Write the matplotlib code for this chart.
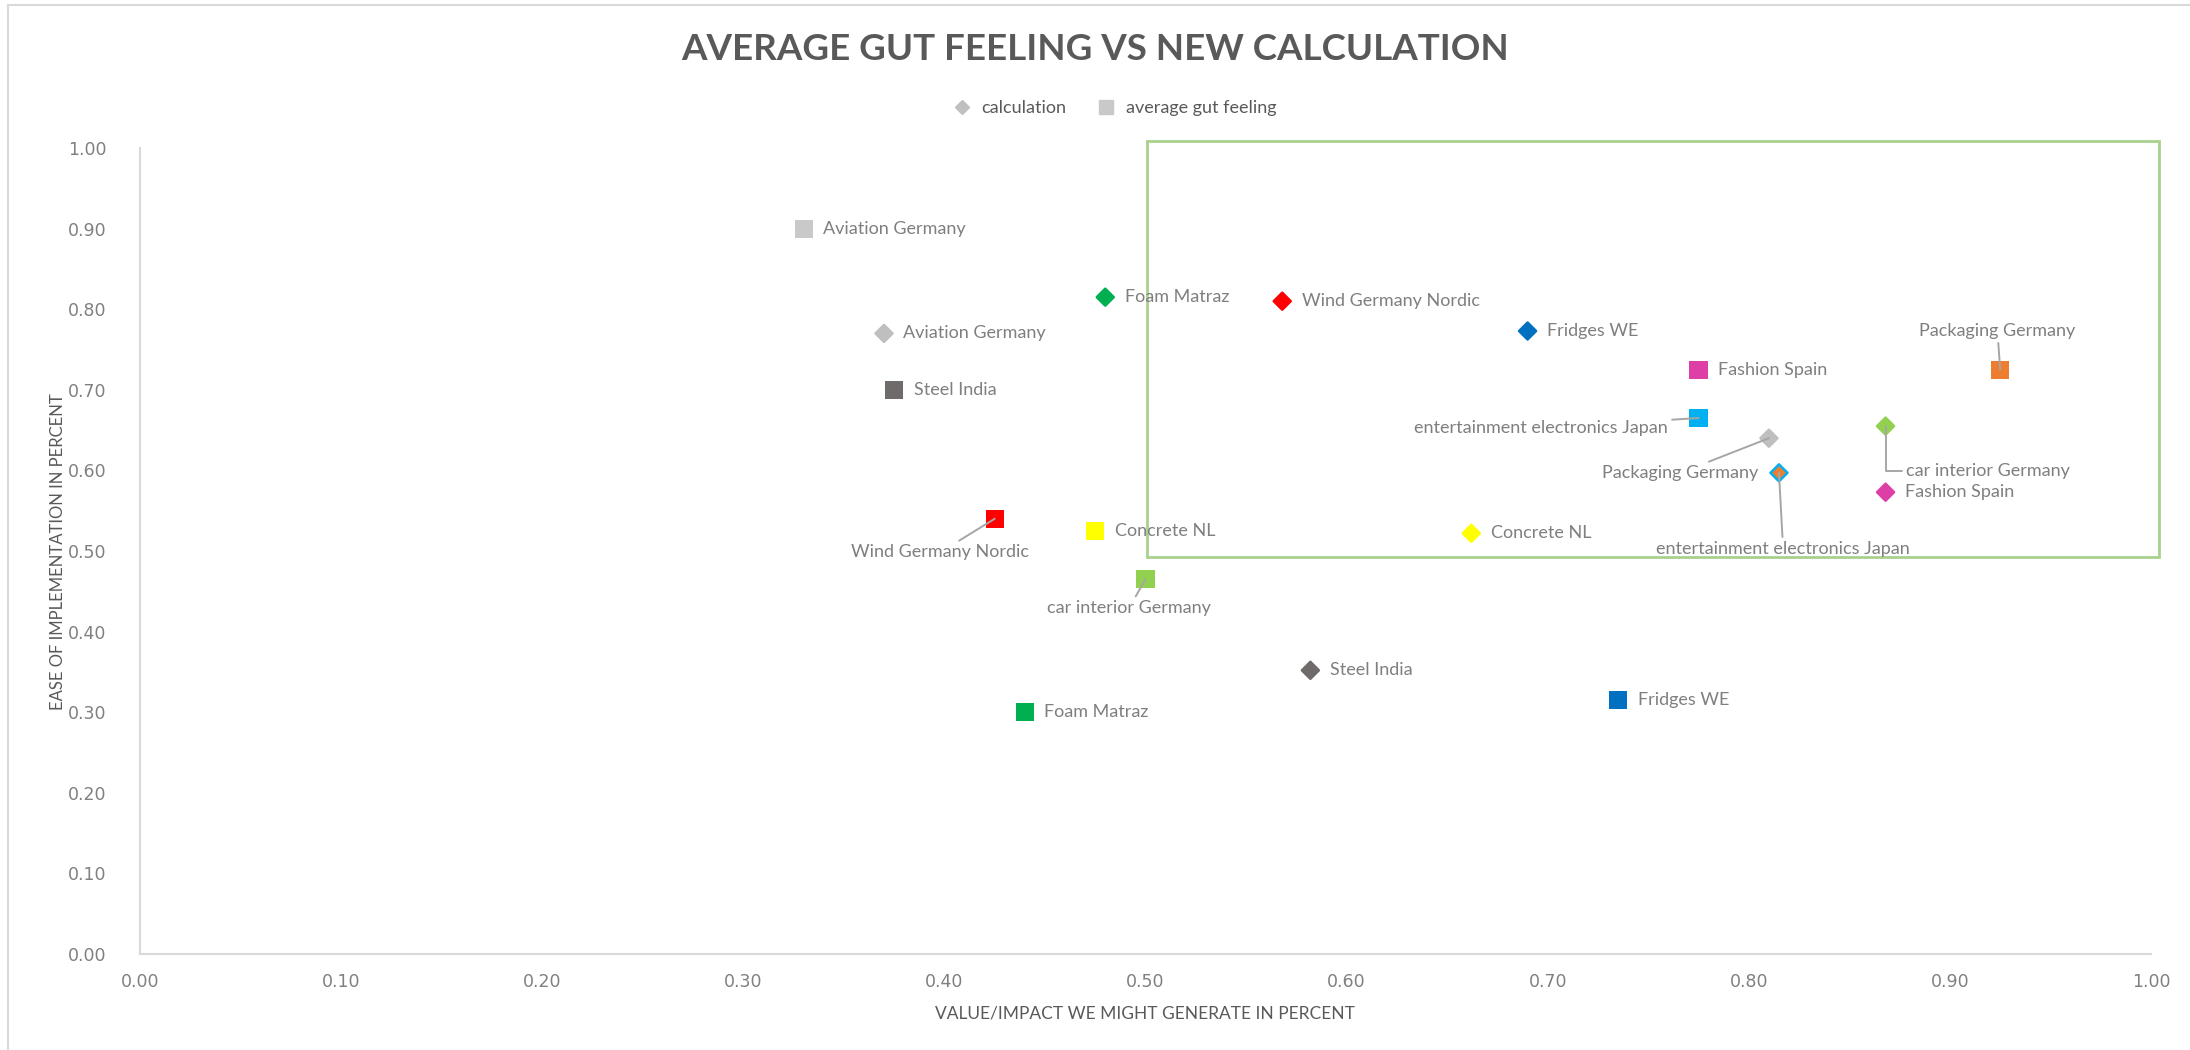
"""Scatter: average gut feeling vs new calculation per project."""
import matplotlib
matplotlib.use("Agg")
import matplotlib.pyplot as plt
from matplotlib.lines import Line2D
from matplotlib.patches import Rectangle

projects = ["Aviation Germany", "Steel India", "Wind Germany Nordic", "Concrete NL",
            "car interior Germany", "Foam Matraz", "Fridges WE", "Fashion Spain",
            "entertainment electronics Japan", "Packaging Germany"]

# average gut feeling (squares)
gut_x = [0.33, 0.375, 0.425, 0.475, 0.50, 0.44, 0.735, 0.775, 0.775, 0.925]
gut_y = [0.90, 0.70, 0.54, 0.525, 0.465, 0.30, 0.315, 0.725, 0.665, 0.725]
# calculation (diamonds)
calc_x = [0.37, 0.582, 0.568, 0.662, 0.868, 0.48, 0.69, 0.868, 0.815, 0.81]
calc_y = [0.77, 0.352, 0.81, 0.522, 0.655, 0.815, 0.773, 0.573, 0.597, 0.64]

gut_colors = ["#C9C9C9", "#6F6B6B", "#FF0000", "#FFFF00", "#92D050", "#00B050",
              "#0070C0", "#DE3FA6", "#00B0F0", "#ED7D31"]
calc_colors = ["#BFBFBF", "#6F6B6B", "#FF0000", "#FFFF00", "#92D050", "#00B050",
               "#0070C0", "#DE3FA6", "#ED7D31", "#BFBFBF"]
calc_edges = ["#BFBFBF", "#6F6B6B", "#FF0000", "#FFFF00", "#92D050", "#00B050",
              "#0070C0", "#DE3FA6", "#00B0F0", "#BFBFBF"]

ticks = [0.0, 0.1, 0.2, 0.3, 0.4, 0.5, 0.6, 0.7, 0.8, 0.9, 1.0]

# label placement (offset in points, alignment); default is right of the marker
gut_offsets = {"Wind Germany Nordic": (-39, -24, "center"),
               "car interior Germany": (-12, -21, "center"),
               "entertainment electronics Japan": (-22, -7, "right"),
               "Packaging Germany": (-2, 28, "center")}
calc_offsets = {"Packaging Germany": (-64, -25, "center"),
                "entertainment electronics Japan": (3, -55, "center"),
                "car interior Germany": (15, -32, "left")}

LABEL = "#7F7F7F"
LEADER = "#A6A6A6"

fig = plt.figure(figsize=(21.9, 10.5), dpi=100)
ax = fig.add_axes([0.0639, 0.0914, 0.9183, 0.7676])

ax.scatter(gut_x, gut_y, marker="s", s=170, c=gut_colors, linewidths=0, zorder=3)
ax.scatter(calc_x, calc_y, marker="D", s=75, c=calc_colors, edgecolors=calc_edges,
           linewidths=1.8, zorder=3)


def label_points(xs, ys, offsets):
    for name, x, y in zip(projects, xs, ys):
        if name in offsets:
            dx, dy, ha = offsets[name]
            conn = "arc3"
            if name == "car interior Germany" and offsets is calc_offsets:
                conn = "angle,angleA=0,angleB=90,rad=0"
            ax.annotate(name, (x, y), xytext=(dx, dy), textcoords="offset points",
                        ha=ha, va="center", fontsize=13, family="Lato", color=LABEL,
                        arrowprops=dict(arrowstyle="-", color=LEADER, lw=1.4,
                                        shrinkA=1, shrinkB=0, connectionstyle=conn),
                        zorder=4)
        else:
            ax.annotate(name, (x, y), xytext=(14, 0), textcoords="offset points",
                        ha="left", va="center", fontsize=13, family="Lato",
                        color=LABEL, zorder=4)


label_points(gut_x, gut_y, gut_offsets)
label_points(calc_x, calc_y, calc_offsets)

# highlighted area
ax.add_patch(Rectangle((0.501, 0.492), 0.503, 0.517, fill=False, edgecolor="#A9D18E",
                       lw=2, clip_on=False, zorder=2))

ax.set_xlim(0, 1)
ax.set_ylim(0, 1)
ax.set_xticks(ticks)
ax.set_yticks(ticks)
ax.set_xticklabels([f"{t:.2f}" for t in ticks])
ax.set_yticklabels([f"{t:.2f}" for t in ticks])
ax.tick_params(axis="both", length=0, labelsize=12.5, labelcolor="#808080")
ax.tick_params(axis="x", pad=14)
ax.tick_params(axis="y", pad=24)
for side in ("top", "right"):
    ax.spines[side].set_visible(False)
for side in ("left", "bottom"):
    ax.spines[side].set_color("#D9D9D9")
    ax.spines[side].set_linewidth(1.5)

fig.text(0.5, 0.953, "AVERAGE GUT FEELING VS NEW CALCULATION", ha="center", va="center",
         fontsize=26.5, fontweight="bold", family="Lato", color="#595959")
fig.text(0.0265, 0.475, "EASE OF IMPLEMENTATION IN PERCENT", rotation=90, ha="center",
         va="center", fontsize=12, family=["Liberation Sans Narrow", "Lato"], color="#595959")
fig.text(0.523, 0.0343, "VALUE/IMPACT WE MIGHT GENERATE IN PERCENT", ha="center",
         va="center", fontsize=12.5, family=["Liberation Sans Narrow", "Lato"], color="#595959")

handles = [Line2D([], [], marker="D", ls="", color="#BFBFBF", markersize=7),
           Line2D([], [], marker="s", ls="", color="#C9C9C9", markersize=10)]
fig.legend(handles, ["calculation", "average gut feeling"], loc="center",
           bbox_to_anchor=(0.507, 0.897), ncol=2, frameon=False,
           prop={"family": "Lato", "size": 13}, labelcolor="#595959",
           handletextpad=0.1, columnspacing=1.2)

# chart area border
fig.add_artist(Line2D([0.0037, 0.0037], [0.0, 0.995], color="#D9D9D9", lw=1.5))
fig.add_artist(Line2D([0.0037, 1.0], [0.995, 0.995], color="#D9D9D9", lw=1.5))

fig.savefig("out.png", dpi=100)
